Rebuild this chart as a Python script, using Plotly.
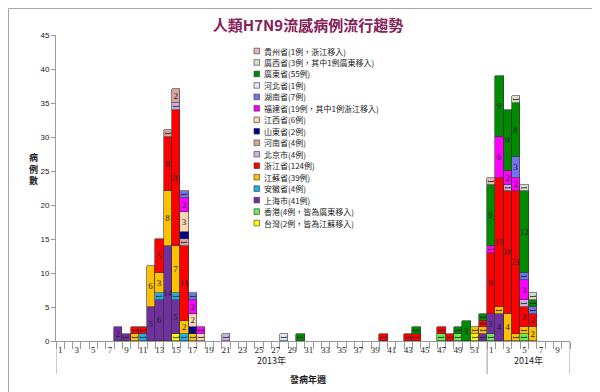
import plotly.graph_objects as go

# ---------------- data ----------------
weeks_2013 = list(range(1, 53))
weeks_2014 = list(range(1, 11))
year_labels = ["2013年", "2014年"]
categories = [f"2013-{w}" for w in weeks_2013] + [f"2014-{w}" for w in weeks_2014]
week_labels = [str(w) for w in weeks_2013] + [str(w) for w in weeks_2014]

# cases per onset week, stacked bottom -> top
taiwan = {"2013-15": 1, "2013-51": 1}
hongkong = {"2013-47": 1, "2013-49": 1, "2014-1": 1, "2014-5": 1}
shanghai = {"2013-8": 2, "2013-9": 1, "2013-12": 5, "2013-13": 6, "2013-14": 14,
            "2013-15": 5, "2013-52": 1, "2014-1": 3, "2014-2": 4}
anhui = {"2013-11": 1, "2013-13": 1, "2013-15": 1, "2013-16": 1}
jiangsu = {"2013-10": 1, "2013-12": 6, "2013-13": 3, "2013-14": 8, "2013-15": 7,
           "2013-16": 2, "2013-17": 1, "2013-51": 1, "2013-52": 1, "2014-2": 1,
           "2014-3": 4, "2014-4": 1, "2014-5": 1, "2014-6": 2}
zhejiang = {"2013-10": 1, "2013-11": 1, "2013-13": 5, "2013-14": 8, "2013-15": 20,
            "2013-16": 11, "2013-40": 1, "2013-43": 1, "2013-44": 1, "2013-47": 1,
            "2013-48": 1, "2013-52": 1, "2014-1": 9, "2014-2": 19, "2014-3": 18,
            "2014-4": 21, "2014-5": 3, "2014-6": 2}
beijing = {"2013-15": 1, "2013-21": 1, "2014-3": 1, "2014-5": 1}
henan = {"2013-14": 1, "2013-15": 2, "2013-16": 1}
shandong = {"2013-16": 1, "2013-17": 1}
jiangxi = {"2013-16": 3, "2013-17": 2, "2013-18": 1}
fujian = {"2013-16": 2, "2013-17": 2, "2013-18": 1, "2014-1": 1, "2014-2": 6,
          "2014-3": 2, "2014-4": 2, "2014-5": 3}
hunan = {"2013-16": 1, "2013-17": 1, "2014-4": 3, "2014-5": 1, "2014-6": 1}
hebei = {"2013-28": 1}
guangdong = {"2013-30": 1, "2013-44": 1, "2013-49": 1, "2013-50": 3, "2013-52": 1,
             "2014-1": 9, "2014-2": 9, "2014-3": 9, "2014-4": 8, "2014-5": 12, "2014-6": 1}
guangxi = {"2014-4": 1, "2014-5": 1, "2014-6": 1}
guizhou = {"2014-1": 1}

series_names = [
    "台灣(2例，皆為江蘇移入)", "香港(4例，皆為廣東移入)", "上海市(41例)", "安徽省(4例)",
    "江蘇省(39例)", "浙江省(124例)", "北京市(4例)", "河南省(4例)", "山東省(2例)",
    "江西省(6例)", "福建省(19例，其中1例浙江移入)", "湖南省(7例)", "河北省(1例)",
    "廣東省(55例)", "廣西省(3例，其中1例廣東移入)", "貴州省(1例，浙江移入)",
]
series_data = [taiwan, hongkong, shanghai, anhui, jiangsu, zhejiang, beijing, henan,
               shandong, jiangxi, fujian, hunan, hebei, guangdong, guangxi, guizhou]
series_colors = ["#FFFF00", "#66EE55", "#7030A0", "#20B0E8", "#FFC000", "#FF0000",
                 "#CDB0E6", "#DBA39F", "#000099", "#FCD5B4", "#FF00FF", "#7373F0",
                 "#DCEBF7", "#008A00", "#DDDDCC", "#E8B4B4"]

# ---------------- figure ----------------
W, H = 600, 392
ML, MR, MT, MB = 48, 38, 27, 59
PW, PH = W - ML - MR, H - MT - MB


def px_x(px):
    return (px - ML) / PW


def px_y(py):
    return (H - MB - py) / PH


xs = list(range(len(categories)))
fig = go.Figure()
for name, data, color in zip(series_names, series_data, series_colors):
    ys = [data.get(c) for c in categories]
    txt = [str(v) if v else "" for v in ys]
    fig.add_trace(go.Bar(
        x=xs, y=ys, name=name, text=txt,
        textposition="inside", insidetextanchor="middle", constraintext="none",
        textfont=dict(size=9, color="#202020", family="Liberation Serif"),
        marker=dict(color=color, line=dict(color="#333333", width=0.6)),
        showlegend=False,
    ))

n13 = len(weeks_2013)
n = len(categories)
tickvals = [i for i, w in enumerate(week_labels) if int(w) % 2 == 1]
ticktext = [week_labels[i] for i in tickvals]

shapes = []
# group dividers under the axis
for xv in [-0.5, n13 - 0.5, n - 0.5]:
    shapes.append(dict(type="line", xref="x", yref="paper", x0=xv, x1=xv,
                       y0=0, y1=px_y(366), line=dict(color="#9A9A9A", width=1)))
# frame
shapes.append(dict(type="rect", xref="paper", yref="paper",
                   x0=px_x(0.5), x1=px_x(599.5), y0=px_y(391.5), y1=px_y(0.5),
                   line=dict(color="#A6A6A6", width=1)))

annotations = [
    dict(text=year_labels[0], x=(n13 - 1) / 2, y=px_y(361), xref="x", yref="paper",
         showarrow=False, font=dict(size=9, family="Noto Sans CJK TC", color="#222")),
    dict(text=year_labels[1], x=n13 + (len(weeks_2014) - 1) / 2, y=px_y(361), xref="x",
         yref="paper", showarrow=False,
         font=dict(size=9, family="Noto Sans CJK TC", color="#222")),
    dict(text="<b>發病年週</b>", x=px_x(300), y=px_y(380), xref="paper", yref="paper",
         showarrow=False, font=dict(size=9, family="Noto Sans CJK TC", color="#222")),
    dict(text="<b>病<br>例<br>數</b>", x=px_x(19), y=px_y(161), xref="paper", yref="paper",
         showarrow=False, font=dict(size=9, family="Noto Sans CJK TC", color="#222")),
]

# custom compact legend (top entry = last series)
leg_top, leg_step = 43, 11.47
for k, (name, color) in enumerate(zip(series_names[::-1], series_colors[::-1])):
    cy = leg_top + k * leg_step
    shapes.append(dict(type="rect", xref="paper", yref="paper",
                       x0=px_x(246), x1=px_x(251.5), y0=px_y(cy + 2.8), y1=px_y(cy - 2.8),
                       fillcolor=color, line=dict(color="#333333", width=0.6)))
    annotations.append(dict(text=name, x=px_x(253.5), y=px_y(cy), xref="paper", yref="paper",
                            xanchor="left", yanchor="middle", showarrow=False,
                            font=dict(size=8, family="Noto Sans CJK TC", color="#222")))

fig.update_layout(
    width=W, height=H,
    margin=dict(l=ML, r=MR, t=MT, b=MB, pad=0),
    paper_bgcolor="white", plot_bgcolor="white",
    barmode="stack", bargap=0,
    showlegend=False,
    title=dict(text="<b>人類H7N9流感病例流行趨勢</b>", x=0.5, xanchor="center",
               y=1 - 18 / H, yanchor="middle", yref="container",
               font=dict(size=15, color="#862058", family="Noto Sans CJK TC")),
    xaxis=dict(range=[-0.5, n - 0.5], tickmode="array", tickvals=tickvals, ticktext=ticktext,
               ticks="",
               minor=dict(tick0=-0.5, dtick=1, ticks="outside", ticklen=7,
                          tickcolor="#9A9A9A", tickwidth=1),
               showline=True, linecolor="#9A9A9A", linewidth=1,
               showgrid=False, zeroline=False,
               tickfont=dict(size=9, family="Liberation Serif", color="#222")),
    yaxis=dict(range=[0, 45], dtick=5, ticks="outside", ticklen=4, tickcolor="#9A9A9A",
               showline=True, linecolor="#9A9A9A", linewidth=1,
               showgrid=False, zeroline=False,
               tickfont=dict(size=8, family="Liberation Sans", color="#222")),
    shapes=shapes, annotations=annotations,
)

fig.write_html("out.html")
